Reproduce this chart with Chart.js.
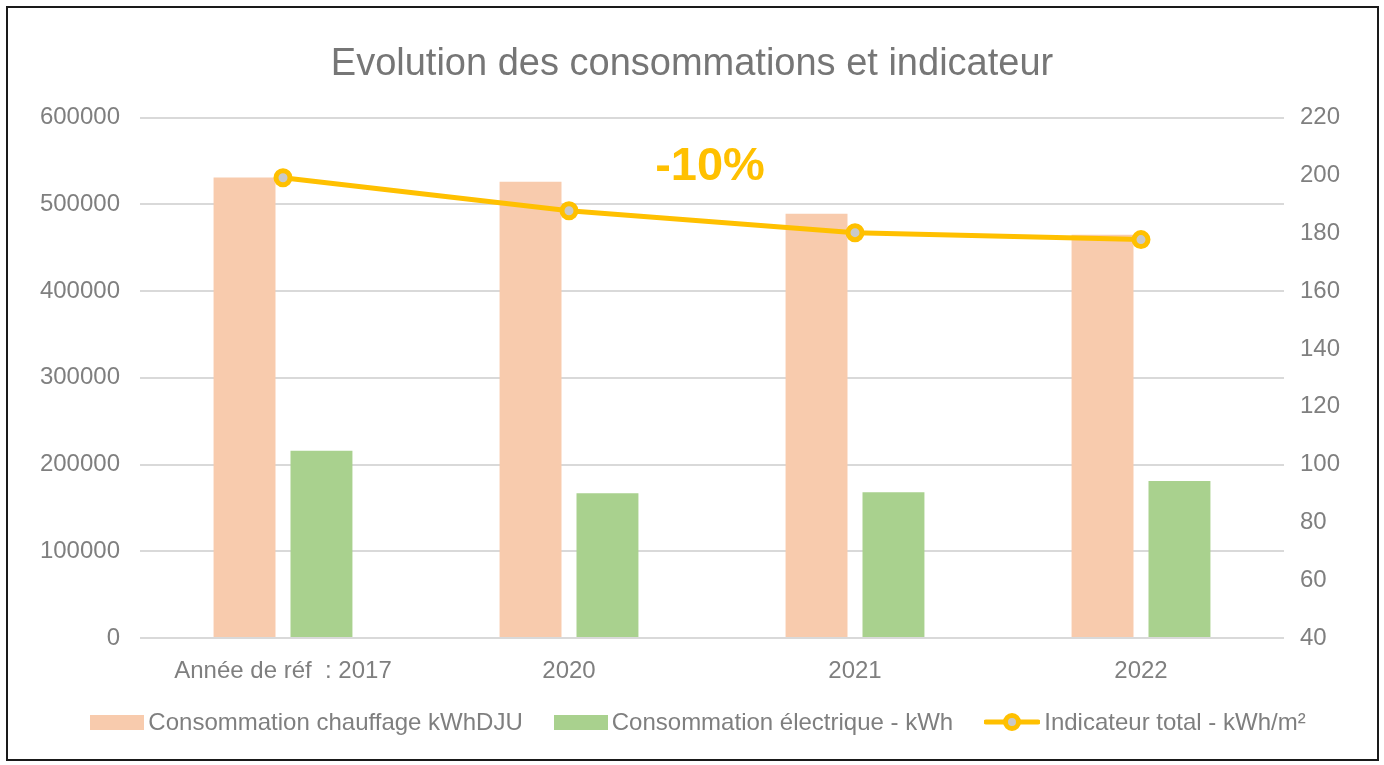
<!DOCTYPE html>
<html>
<head>
<meta charset="utf-8">
<script src="https://cdn.jsdelivr.net/npm/chart.js@4.4.1/dist/chart.umd.min.js"></script>
<style>
  html, body { margin: 0; padding: 0; background: #fff; }
  body { width: 1384px; height: 765px; position: relative; overflow: hidden; font-family: "Liberation Sans", Arial, sans-serif; }
  #frame { position: absolute; left: 6px; top: 6px; width: 1369px; height: 751px; border: 2px solid #1a1a1a; }
  #wrap { position: absolute; left: 0; top: 0; width: 1384px; height: 765px; }
  #legend { position: absolute; left: 6px; top: 708px; width: 1384px; height: 28px; display: flex; justify-content: center; align-items: center; gap: 31px; color: #7f7f7f; font-size: 24px; }
  .item { display: flex; align-items: center; gap: 4px; white-space: nowrap; }
  .box { width: 54px; height: 15px; }
</style>
</head>
<body>
<div id="wrap"><canvas id="chart"></canvas></div>
<div id="frame"></div>
<div id="legend"></div>
<script>
const categories = ['Année de réf  : 2017', '2020', '2021', '2022'];
const chauffage = [531000, 526000, 489000, 465000];
const electrique = [216000, 167000, 168000, 181000];
const indicateur = [199.2, 187.8, 180.2, 177.8];
const seriesNames = ['Consommation chauffage kWhDJU', 'Consommation électrique - kWh', 'Indicateur total - kWh/m²'];
const leftTicks = { min: 0, max: 600000, step: 100000 };
const rightTicks = { min: 40, max: 220, step: 20 };
const annotation = '-10%';

const peach = '#F8CBAD';
const green = '#A9D18E';
const gold = '#FFC000';
const tickColor = '#7f7f7f';

// annotation "-10%" between 2020 and 2021
const annotationPlugin = {
  id: 'annot',
  afterDatasetsDraw(chart) {
    const { ctx, scales } = chart;
    const x = (scales.x.getPixelForValue(1) + scales.x.getPixelForValue(2)) / 2;
    const y = scales.y1.getPixelForValue(202.8);
    ctx.save();
    ctx.font = 'bold 47px "Liberation Sans", Arial, sans-serif';
    ctx.fillStyle = gold;
    ctx.textAlign = 'center';
    ctx.textBaseline = 'middle';
    ctx.fillText(annotation, x - 2, y);
    ctx.restore();
  }
};

const tickFont = { family: '"Liberation Sans", Arial, sans-serif', size: 24 };

new Chart(document.getElementById('chart'), {
  type: 'bar',
  data: {
    labels: categories,
    datasets: [
      {
        type: 'line', label: seriesNames[2], data: indicateur, yAxisID: 'y1',
        borderColor: gold, borderWidth: 5, pointRadius: 7, pointBorderWidth: 5,
        pointBackgroundColor: '#c9c9c9', pointBorderColor: gold, tension: 0, order: 0
      },
      {
        label: seriesNames[0], data: chauffage, yAxisID: 'y', backgroundColor: peach,
        categoryPercentage: 0.538, barPercentage: 0.805, order: 1
      },
      {
        label: seriesNames[1], data: electrique, yAxisID: 'y', backgroundColor: green,
        categoryPercentage: 0.538, barPercentage: 0.805, order: 1
      }
    ]
  },
  options: {
    responsive: true,
    maintainAspectRatio: false,
    animation: false,
    layout: { padding: 0 },
    plugins: {
      legend: { display: false },
      tooltip: { enabled: false },
      title: {
        display: true,
        text: 'Evolution des consommations et indicateur',
        color: '#767676',
        font: { family: '"Liberation Sans", Arial, sans-serif', size: 38, weight: 'normal' },
        padding: { top: 42, bottom: 30 }
      }
    },
    scales: {
      x: {
        grid: { display: false },
        border: { display: false },
        ticks: { color: tickColor, font: tickFont, padding: 11, maxRotation: 0 },
        afterFit(s) { s.height = 127; }
      },
      y: {
        position: 'left',
        min: leftTicks.min, max: leftTicks.max,
        grid: { color: '#d9d9d9', lineWidth: 2, drawTicks: false },
        border: { display: false },
        ticks: { stepSize: leftTicks.step, color: tickColor, font: tickFont, padding: 20, callback: v => String(v) },
        afterFit(s) { s.width = 140; }
      },
      y1: {
        position: 'right',
        min: rightTicks.min, max: rightTicks.max,
        grid: { display: false, drawTicks: false },
        border: { display: false },
        ticks: { stepSize: rightTicks.step, color: tickColor, font: tickFont, padding: 16, callback: v => String(v) },
        afterFit(s) { s.width = 100; }
      }
    }
  },
  plugins: [annotationPlugin]
});

// legend
const legend = document.getElementById('legend');
[[seriesNames[0], peach, 'box'], [seriesNames[1], green, 'box'], [seriesNames[2], gold, 'line']].forEach(([name, col, kind]) => {
  const item = document.createElement('div');
  item.className = 'item';
  if (kind === 'box') {
    const b = document.createElement('div');
    b.className = 'box';
    b.style.background = col;
    item.appendChild(b);
  } else {
    item.insertAdjacentHTML('beforeend',
      '<svg width="56" height="22"><line x1="2" y1="11" x2="54" y2="11" stroke="' + col + '" stroke-width="5" stroke-linecap="round"/>' +
      '<circle cx="28" cy="11" r="6.5" fill="#c9c9c9" stroke="' + col + '" stroke-width="5"/></svg>');
  }
  const t = document.createElement('span');
  t.textContent = name;
  item.appendChild(t);
  legend.appendChild(item);
});
</script>
</body>
</html>
